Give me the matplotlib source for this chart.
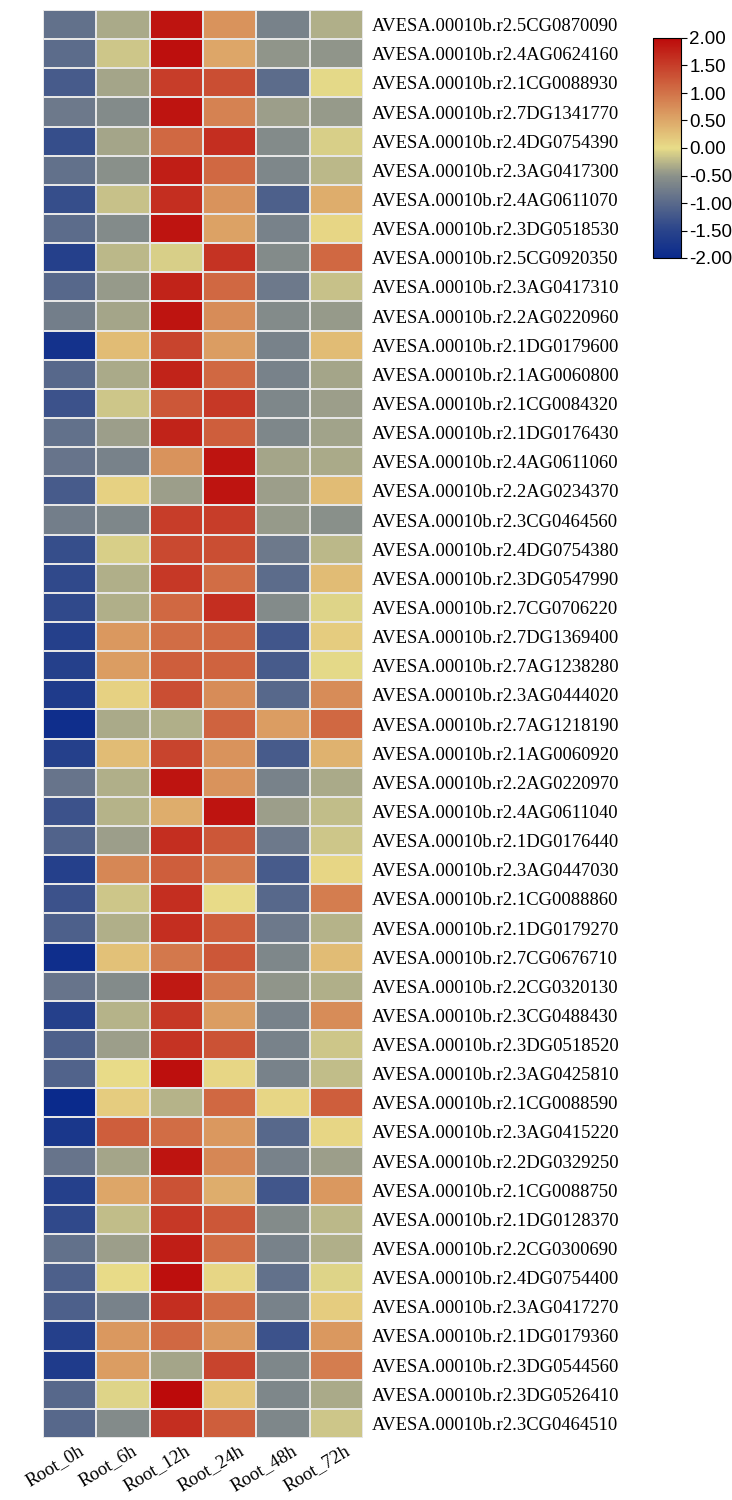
import numpy as np
import matplotlib
matplotlib.use("Agg")
import matplotlib.pyplot as plt
import matplotlib.transforms as mtransforms
from matplotlib.colors import LinearSegmentedColormap

samples = ["Root_0h", "Root_6h", "Root_12h", "Root_24h", "Root_48h", "Root_72h"]

genes = [
    "AVESA.00010b.r2.5CG0870090", "AVESA.00010b.r2.4AG0624160", "AVESA.00010b.r2.1CG0088930",
    "AVESA.00010b.r2.7DG1341770", "AVESA.00010b.r2.4DG0754390", "AVESA.00010b.r2.3AG0417300",
    "AVESA.00010b.r2.4AG0611070", "AVESA.00010b.r2.3DG0518530", "AVESA.00010b.r2.5CG0920350",
    "AVESA.00010b.r2.3AG0417310", "AVESA.00010b.r2.2AG0220960", "AVESA.00010b.r2.1DG0179600",
    "AVESA.00010b.r2.1AG0060800", "AVESA.00010b.r2.1CG0084320", "AVESA.00010b.r2.1DG0176430",
    "AVESA.00010b.r2.4AG0611060", "AVESA.00010b.r2.2AG0234370", "AVESA.00010b.r2.3CG0464560",
    "AVESA.00010b.r2.4DG0754380", "AVESA.00010b.r2.3DG0547990", "AVESA.00010b.r2.7CG0706220",
    "AVESA.00010b.r2.7DG1369400", "AVESA.00010b.r2.7AG1238280", "AVESA.00010b.r2.3AG0444020",
    "AVESA.00010b.r2.7AG1218190", "AVESA.00010b.r2.1AG0060920", "AVESA.00010b.r2.2AG0220970",
    "AVESA.00010b.r2.4AG0611040", "AVESA.00010b.r2.1DG0176440", "AVESA.00010b.r2.3AG0447030",
    "AVESA.00010b.r2.1CG0088860", "AVESA.00010b.r2.1DG0179270", "AVESA.00010b.r2.7CG0676710",
    "AVESA.00010b.r2.2CG0320130", "AVESA.00010b.r2.3CG0488430", "AVESA.00010b.r2.3DG0518520",
    "AVESA.00010b.r2.3AG0425810", "AVESA.00010b.r2.1CG0088590", "AVESA.00010b.r2.3AG0415220",
    "AVESA.00010b.r2.2DG0329250", "AVESA.00010b.r2.1CG0088750", "AVESA.00010b.r2.1DG0128370",
    "AVESA.00010b.r2.2CG0300690", "AVESA.00010b.r2.4DG0754400", "AVESA.00010b.r2.3AG0417270",
    "AVESA.00010b.r2.1DG0179360", "AVESA.00010b.r2.3DG0544560", "AVESA.00010b.r2.3DG0526410",
    "AVESA.00010b.r2.3CG0464510",
]

# z-scores, one list per time point (rows follow genes)
root_0h = [-0.91, -0.97, -1.20, -0.80, -1.37, -0.91, -1.37, -0.97, -1.57, -1.02,
           -0.74, -1.83, -1.02, -1.31, -0.91, -0.86, -1.20, -0.74, -1.37, -1.43,
           -1.43, -1.57, -1.57, -1.66, -1.91, -1.57, -0.86, -1.31, -1.08, -1.57,
           -1.31, -1.14, -1.91, -0.86, -1.57, -1.14, -1.08, -2.0, -1.74, -0.86,
           -1.57, -1.43, -0.91, -1.14, -1.14, -1.57, -1.66, -1.02, -1.02]
root_6h = [-0.33, -0.15, -0.36, -0.58, -0.36, -0.52, -0.18, -0.58, -0.24, -0.45,
           -0.36, 0.3, -0.33, -0.15, -0.42, -0.69, 0.1, -0.63, -0.09, -0.30,
           -0.30, 0.65, 0.6, 0.1, -0.33, 0.3, -0.30, -0.27, -0.42, 0.8,
           -0.15, -0.30, 0.25, -0.58, -0.27, -0.42, 0.0, 0.15, 1.2, -0.36,
           0.5, -0.21, -0.42, 0.0, -0.69, 0.65, 0.6, -0.06, -0.58]
root_12h = [1.9, 1.95, 1.5, 1.9, 1.1, 1.8, 1.65, 1.9, -0.09, 1.75,
            1.9, 1.45, 1.75, 1.25, 1.75, 0.7, -0.42, 1.5, 1.4, 1.55,
            1.1, 1.05, 1.2, 1.35, -0.30, 1.45, 1.9, 0.45, 1.65, 1.2,
            1.65, 1.65, 0.95, 1.85, 1.55, 1.6, 1.95, -0.27, 1.05, 1.9,
            1.3, 1.55, 1.8, 1.95, 1.65, 1.1, -0.36, 2.0, 1.65]
root_24h = [0.7, 0.5, 1.35, 0.85, 1.65, 1.1, 0.7, 0.55, 1.6, 1.1,
            0.75, 0.6, 1.1, 1.55, 1.2, 1.9, 1.9, 1.5, 1.35, 1.05,
            1.65, 1.1, 1.15, 0.75, 1.15, 0.7, 0.7, 1.9, 1.25, 0.95,
            0.0, 1.2, 1.25, 0.95, 0.6, 1.3, 0.05, 1.1, 0.65, 0.8,
            0.45, 1.25, 1.05, 0.05, 1.05, 0.65, 1.45, 0.2, 1.2]
root_48h = [-0.69, -0.48, -0.97, -0.42, -0.58, -0.63, -1.14, -0.69, -0.58, -0.80,
            -0.58, -0.69, -0.69, -0.63, -0.63, -0.36, -0.42, -0.45, -0.80, -0.97,
            -0.58, -1.26, -1.20, -1.02, 0.6, -1.20, -0.69, -0.42, -0.80, -1.20,
            -1.02, -0.80, -0.63, -0.48, -0.69, -0.69, -0.69, 0.05, -1.02, -0.69,
            -1.26, -0.58, -0.69, -0.91, -0.69, -1.31, -0.63, -0.63, -0.63]
root_72h = [-0.30, -0.48, -0.03, -0.45, -0.09, -0.24, 0.45, 0.05, 1.1, -0.18,
            -0.45, 0.3, -0.36, -0.42, -0.39, -0.33, 0.3, -0.52, -0.24, 0.3,
            -0.06, 0.15, -0.03, 0.75, 1.1, 0.4, -0.33, -0.21, -0.15, 0.05,
            0.9, -0.27, 0.3, -0.30, 0.75, -0.15, -0.21, 1.2, 0.05, -0.42,
            0.65, -0.24, -0.30, -0.06, 0.15, 0.65, 0.9, -0.33, -0.15]

data = np.array([root_0h, root_6h, root_12h, root_24h, root_48h, root_72h]).T

cmap = LinearSegmentedColormap.from_list(
    "byr",
    [(0.0, "#0a2a8c"), (0.125, "#2a448b"), (0.25, "#5a6a8b"), (0.375, "#8c928a"),
     (0.5, "#e8dc88"), (1.0, "#bc0a0a")])

fig = plt.figure(figsize=(7.32, 15), dpi=100)
ax = fig.add_axes([43 / 732, 1 - 1438 / 1500, 320 / 732, 1428 / 1500])

mesh = ax.pcolormesh(data, cmap=cmap, vmin=-2, vmax=2,
                     edgecolors="#e6e6e6", linewidth=1.2)
ax.set_xlim(0, data.shape[1])
ax.set_ylim(data.shape[0], 0)

for s in ax.spines.values():
    s.set_visible(False)

ax.set_yticks(np.arange(len(genes)) + 0.5)
ax.set_yticklabels(genes, family="Liberation Serif", fontsize=13.4)
ax.yaxis.tick_right()
ax.tick_params(axis="y", length=0, pad=6)

ax.set_xticks(np.arange(len(samples)) + 0.5)
ax.set_xticklabels(samples, family="Liberation Serif", fontsize=13.5,
                   rotation=31, ha="right", rotation_mode="anchor")
ax.tick_params(axis="x", length=0, pad=3)
shift = mtransforms.ScaledTranslation(0.08, 0, fig.dpi_scale_trans)
for lab in ax.get_xticklabels():
    lab.set_transform(lab.get_transform() + shift)

cax = fig.add_axes([653 / 732, 1 - 258 / 1500, 28 / 732, 220 / 1500])
cb = fig.colorbar(mesh, cax=cax, ticks=np.arange(-2, 2.01, 0.5))
cb.ax.set_yticklabels(["%.2f" % t for t in np.arange(-2, 2.01, 0.5)],
                      family="Liberation Sans", fontsize=13.5)
cb.ax.tick_params(length=4, width=0.8, pad=2)
cb.outline.set_linewidth(0.8)

fig.savefig("out.png", dpi=100)
